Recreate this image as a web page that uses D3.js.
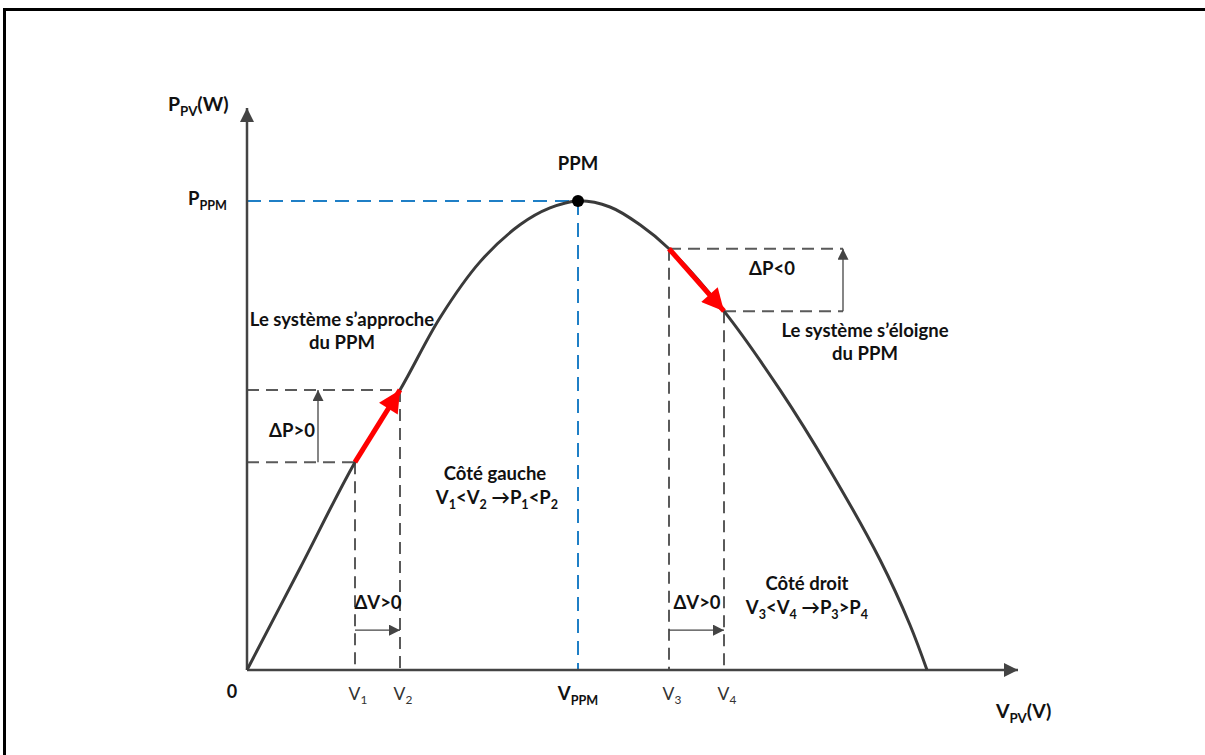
<!DOCTYPE html>
<html><head><meta charset="utf-8">
<script src="https://cdn.jsdelivr.net/npm/d3@7"></script>
<style>
body{margin:0;background:#fff;}
text{font-family:Lato,"Open Sans",sans-serif;}
</style></head>
<body><svg id="c" width="1205" height="755"></svg>
<script>
// ---- data (V in volts, P in watts; illustrative P-V curve) ----
const curveV = [0, 2.65, 5.4, 7.65, 9.65, 11.65, 13.65, 15.15, 16.55, 18.15, 19.65, 21.1, 23.85, 26.65, 29.15, 31.65, 33.15, 34];
const curveP = [0, 21.7, 44.3, 59.7, 75.1, 87.0, 94.9, 98.5, 100, 98.7, 94.9, 89.8, 76.5, 59.7, 42.6, 23.5, 9.6, 0];
const pointNames = ["V1", "V2", "VPPM", "V3", "V4"];
const pointV = [5.4, 7.65, 16.55, 21.1, 23.85];
const pointP = [44.3, 59.7, 100, 89.8, 76.5];
const tickLabels = [["V","1",false],["V","2",false],["V","PPM",true],["V","3",false],["V","4",false]];

const svg = d3.select("#c");
const x = d3.scaleLinear().domain([0, 38.55]).range([247, 1018]);
const y = d3.scaleLinear().domain([0, 119.8]).range([670, 108]);
const axisCol = "#444", curveCol = "#3a3a3a", dashCol = "#5a5a5a", blue = "#1f7fc6";

// frame
svg.append("rect").attr("x",4.5).attr("y",9.5).attr("width",1210).attr("height",760)
  .attr("fill","none").attr("stroke","#000").attr("stroke-width",3);

const defs = svg.append("defs");
function marker(id, col, w, h){
  defs.append("marker").attr("id",id).attr("viewBox","0 0 10 10").attr("refX",10).attr("refY",5)
    .attr("markerWidth",w).attr("markerHeight",h).attr("markerUnits","userSpaceOnUse").attr("orient","auto")
    .append("path").attr("d","M0,0L10,5L0,10Z").attr("fill",col);
}
marker("axA", axisCol, 20, 14);
marker("smA", "#444", 13, 11);
marker("redA", "#ff0000", 26, 22);

// blue guides
svg.append("line").attr("x1",x(0)).attr("x2",x(pointV[2])).attr("y1",y(pointP[2])).attr("y2",y(pointP[2]))
  .attr("stroke",blue).attr("stroke-width",2).attr("stroke-dasharray","14,8");
svg.append("line").attr("x1",x(pointV[2])).attr("x2",x(pointV[2])).attr("y1",y(pointP[2])).attr("y2",y(0))
  .attr("stroke",blue).attr("stroke-width",2).attr("stroke-dasharray","14,8");

// grey dashed guides
function dash(x1,y1,x2,y2){
  svg.append("line").attr("x1",x1).attr("y1",y1).attr("x2",x2).attr("y2",y2)
    .attr("stroke",dashCol).attr("stroke-width",2).attr("stroke-dasharray","12,7");
}
[0,1].forEach(i=>{
  dash(x(0), y(pointP[i]), x(pointV[i]), y(pointP[i]));
  dash(x(pointV[i]), y(pointP[i]), x(pointV[i]), y(0));
});
const rightEnd = 29.8;
[3,4].forEach(i=>{
  dash(x(pointV[i]), y(pointP[i]), x(rightEnd), y(pointP[i]));
  dash(x(pointV[i]), y(pointP[i]), x(pointV[i]), y(0));
});

// small black arrows
function small(x1,y1,x2,y2){
  svg.append("line").attr("x1",x1).attr("y1",y1).attr("x2",x2).attr("y2",y2)
    .attr("stroke","#444").attr("stroke-width",1.3).attr("marker-end","url(#smA)");
}
small(x(3.55), y(pointP[0]), x(3.55), y(pointP[1]));
small(x(rightEnd), y(pointP[4]), x(rightEnd), y(pointP[3]));
const dvP = 8.5;
small(x(pointV[0]), y(dvP), x(pointV[1]), y(dvP));
small(x(pointV[3]), y(dvP), x(pointV[4]), y(dvP));

// axes
svg.append("line").attr("x1",x(0)).attr("y1",y(0)).attr("x2",x(0)).attr("y2",y(119.8))
  .attr("stroke",axisCol).attr("stroke-width",2.5).attr("marker-end","url(#axA)");
svg.append("line").attr("x1",x(0)).attr("y1",y(0)).attr("x2",x(38.55)).attr("y2",y(0))
  .attr("stroke",axisCol).attr("stroke-width",2.5).attr("marker-end","url(#axA)");

// curve
const line = d3.line().x((d,i)=>x(curveV[i])).y((d,i)=>y(curveP[i])).curve(d3.curveCatmullRom.alpha(0.5));
svg.append("path").datum(curveV).attr("d",line).attr("fill","none").attr("stroke",curveCol).attr("stroke-width",3);

// red arrows
svg.append("line").attr("x1",x(pointV[0])).attr("y1",y(pointP[0])).attr("x2",x(pointV[1])).attr("y2",y(pointP[1]))
  .attr("stroke","#ff0000").attr("stroke-width",5).attr("marker-end","url(#redA)");
svg.append("line").attr("x1",x(pointV[3])).attr("y1",y(pointP[3])).attr("x2",x(pointV[4])).attr("y2",y(pointP[4]))
  .attr("stroke","#ff0000").attr("stroke-width",5).attr("marker-end","url(#redA)");

// PPM dot
svg.append("circle").attr("cx",x(pointV[2])).attr("cy",y(pointP[2])).attr("r",6).attr("fill","#000");

// text helper: parts = [[text, sub?], ...]
function txt(px,py,parts,opts={}){
  const size = opts.size||18.5;
  const t = svg.append("text").attr("x",px).attr("y",py)
    .attr("text-anchor",opts.anchor||"middle").attr("font-size",size)
    .attr("font-weight",opts.bold===false?"normal":"bold").attr("fill",opts.fill||"#111");
  let prevSub = false;
  parts.forEach(p=>{
    const s = t.append("tspan").text(p[0]);
    const sub = !!p[1];
    if(sub) s.attr("font-size",size*0.68);
    s.attr("dy", sub && !prevSub ? size*0.25 : (!sub && prevSub ? -size*0.25 : 0));
    prevSub = sub;
  });
  return t;
}

// axis titles
txt(168,111,[["P"],["PV",1],["(W)"]],{anchor:"start",size:19.5});
txt(188,205,[["P"],["PPM",1]],{anchor:"start",size:18.5});
txt(232,698,[["0"]],{size:18});
txt(996,718,[["V"],["PV",1],["(V)"]],{anchor:"start",size:19.5});
// tick labels along V axis
pointV.forEach((v,i)=>{
  const tl = tickLabels[i];
  txt(x(v)+ (tl[2]?0:3), 700, [[tl[0]],[tl[1],1]], {size:tl[2]?18.5:17.5, bold:tl[2], fill: tl[2]?"#111":"#333"});
});

txt(x(pointV[2]), 170, [["PPM"]]);
txt(342,326,[["Le système s’approche"]]);
txt(342,349,[["du PPM"]]);
txt(292,437,[["ΔP>0"]]);
txt(495,480,[["Côté gauche"]]);
txt(497,504,[["V"],["1",1],["<V"],["2",1],[" →P"],["1",1],["<P"],["2",1]]);
txt(772,275,[["ΔP<0"]]);
txt(865,337,[["Le système s’éloigne"]]);
txt(865,360,[["du PPM"]]);
txt(378,609,[["ΔV>0"]]);
txt(697,609,[["ΔV>0"]]);
txt(807,590,[["Côté droit"]]);
txt(807,614,[["V"],["3",1],["<V"],["4",1],[" →P"],["3",1],[">P"],["4",1]]);
</script></body></html>
